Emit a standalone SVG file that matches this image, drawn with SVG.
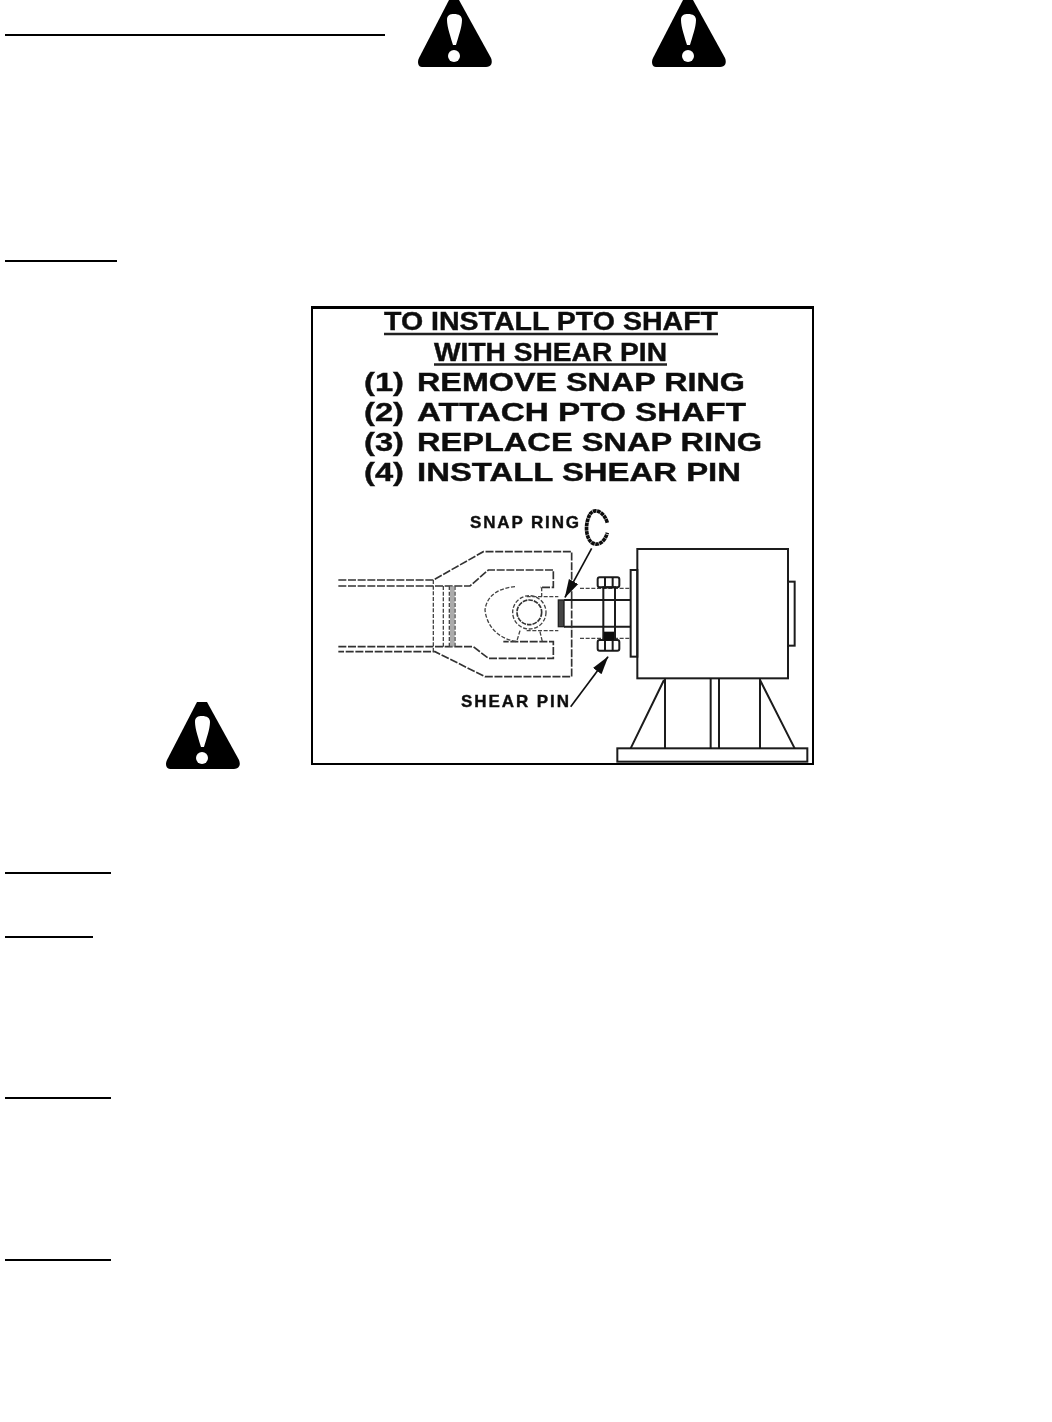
<svg xmlns="http://www.w3.org/2000/svg" width="1052" height="1422" viewBox="0 0 1052 1422">
<style>
.rule{stroke:#000;stroke-width:2;fill:none}
.t{font-family:"Liberation Sans",Arial,sans-serif;font-weight:700;fill:#111;stroke:#111;stroke-width:0.4}
.s{fill:none;stroke:#1a1a1a;stroke-width:6}
.d{fill:none;stroke:#333;stroke-width:5;stroke-dasharray:24 5}
.f{fill:none;stroke:#444;stroke-width:4;stroke-dasharray:12 5}
</style>
<defs>
<g id="warn">
<path d="M31,0 H41 L73,58 C75,63 73,67 68,67 L4,67 C0,67 -1,62 1,58Z" fill="#000"/>
<path d="M29,20 C29,15 32,14 36,14 C41,14 44,16 44,20 C44,27 40,38 38,45 L35,45 C33,38 29,27 29,20Z" fill="#fff"/>
<circle cx="36" cy="56" r="6" fill="#fff"/>
</g>
<filter id="soft" x="0" y="0" width="1" height="1"><feGaussianBlur stdDeviation="0.5"/></filter>
<marker id="ah" markerUnits="userSpaceOnUse" markerWidth="60" markerHeight="44" refX="54" refY="20" orient="auto"><path d="M0,4 L56,20 L0,36Z" fill="#111"/></marker>
</defs>
<rect width="1052" height="1422" fill="#fff"/>
<g id="rules">
<line class="rule" x1="5" y1="35" x2="385" y2="35"/>
<line class="rule" x1="5" y1="261" x2="117" y2="261"/>
<line class="rule" x1="5" y1="873" x2="111" y2="873"/>
<line class="rule" x1="5" y1="937" x2="93" y2="937"/>
<line class="rule" x1="5" y1="1098" x2="111" y2="1098"/>
<line class="rule" x1="5" y1="1260" x2="111" y2="1260"/>
</g>
<g id="warnings">
<use href="#warn" x="418" y="0"/>
<use href="#warn" x="652" y="0"/>
<use href="#warn" x="166" y="702"/>
</g>
<g id="figure" filter="url(#soft)">
<rect x="311.500" y="307.500" width="502" height="457" fill="#fff" stroke="#000" stroke-width="3"/>
<g id="instructions">
<text class="t" x="384" y="329.500" font-size="25" textLength="334" lengthAdjust="spacingAndGlyphs">TO INSTALL PTO SHAFT</text>
<line x1="384" y1="334" x2="718" y2="334" stroke="#222" stroke-width="2.500"/>
<text class="t" x="434" y="360.500" font-size="25" textLength="233" lengthAdjust="spacingAndGlyphs">WITH SHEAR PIN</text>
<line x1="434" y1="364.500" x2="667" y2="364.500" stroke="#222" stroke-width="2.500"/>
<text class="t" x="364" y="390.500" font-size="25" textLength="40" lengthAdjust="spacingAndGlyphs">(1)</text>
<text class="t" x="417" y="390.500" font-size="25" textLength="328" lengthAdjust="spacingAndGlyphs">REMOVE SNAP RING</text>
<text class="t" x="364" y="420.500" font-size="25" textLength="40" lengthAdjust="spacingAndGlyphs">(2)</text>
<text class="t" x="417" y="420.500" font-size="25" textLength="329" lengthAdjust="spacingAndGlyphs">ATTACH PTO SHAFT</text>
<text class="t" x="364" y="450.500" font-size="25" textLength="40" lengthAdjust="spacingAndGlyphs">(3)</text>
<text class="t" x="417" y="450.500" font-size="25" textLength="345" lengthAdjust="spacingAndGlyphs">REPLACE SNAP RING</text>
<text class="t" x="364" y="480.500" font-size="25" textLength="40" lengthAdjust="spacingAndGlyphs">(4)</text>
<text class="t" x="417" y="480.500" font-size="25" textLength="324" lengthAdjust="spacingAndGlyphs">INSTALL SHEAR PIN</text>
</g>
<text class="t" x="470" y="528" font-size="17" textLength="109" lengthAdjust="spacing">SNAP RING</text>
<text class="t" x="461" y="707" font-size="17" textLength="108" lengthAdjust="spacing">SHEAR PIN</text>
<g id="drawing" transform="translate(320,500) scale(0.33333)">
<g id="gearbox">
<rect class="s" x="952" y="147" width="452" height="388"/>
<rect class="s" x="932" y="210" width="20" height="260"/>
<rect class="s" x="1404" y="245" width="20" height="192"/>
<rect class="s" x="892" y="745" width="570" height="40"/>
<path class="s" d="M1035,535V745M1172,535V745M1197,535V745M1320,535V745M1032,540L932,745M1320,540L1424,745"/>
</g>
<g id="shaft">
<path class="s" d="M732,300H932M732,380H932"/>
<rect x="715" y="300" width="17" height="80" fill="#444" stroke="#222" stroke-width="4"/>
<path class="f" d="M780,265H932M780,415H932"/>
<rect class="s" x="850" y="262" width="35" height="158"/>
<rect class="s" x="833" y="232" width="65" height="30" rx="6"/>
<rect class="s" x="833" y="420" width="65" height="32" rx="6"/>
<path class="s" d="M855,232V262M878,232V262M855,420V452M878,420V452"/>
<path d="M852,395H882V422H852Z" fill="#111"/>
</g>
<g id="yoke">
<path class="d" d="M55,240H340L490,155H755V530H495L345,455H55"/>
<path class="d" d="M55,258H450L505,210H700V262H660"/>
<path class="d" d="M55,440H460L505,475H700V425H550"/>
<path class="f" d="M340,240V455M370,258V440M388,258V440M405,258V440"/>
<rect x="390" y="258" width="14" height="182" fill="#888" opacity="0.7"/>
<path class="f" d="M585,260C530,265 500,290 495,330C500,375 530,415 590,425"/>
<path class="f" d="M620,290H715M620,392H715M665,262V290M600,392L590,425M660,395L667,425"/>
<circle class="f" cx="628" cy="337" r="50"/>
<circle cx="628" cy="337" r="37" fill="none" stroke="#333" stroke-width="5" stroke-dasharray="14 3"/>
</g>
<path id="snap-ring" d="M862,68C852,35 825,24 812,40C795,65 795,110 815,128C835,140 855,125 862,98" fill="none" stroke="#111" stroke-width="11" stroke-dasharray="11 1.500"/>
<g id="connectors">
<line x1="815" y1="145" x2="735" y2="292" stroke="#111" stroke-width="5" marker-end="url(#ah)"/>
<line x1="752" y1="620" x2="864" y2="470" stroke="#111" stroke-width="5" marker-end="url(#ah)"/>
</g>
</g>
</g>
</svg>
